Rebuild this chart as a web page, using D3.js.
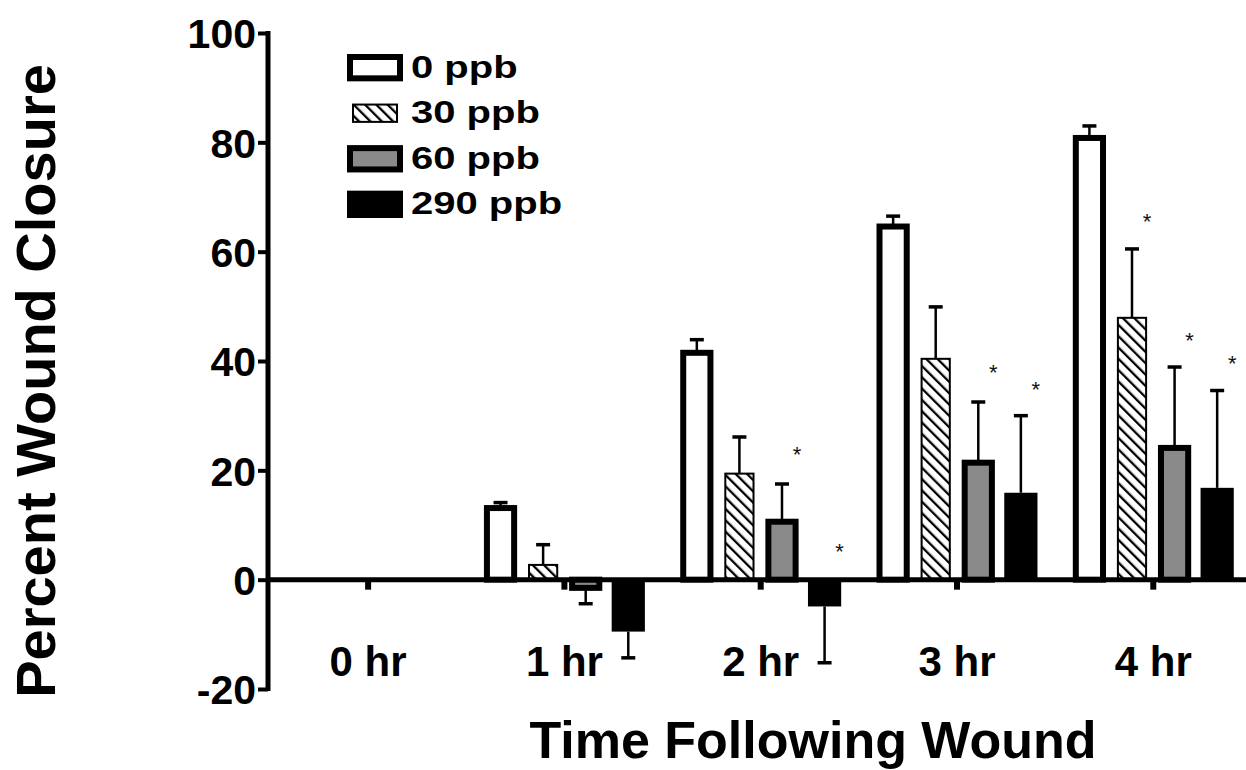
<!DOCTYPE html>
<html>
<head>
<meta charset="utf-8">
<script src="https://cdn.jsdelivr.net/npm/d3@7"></script>
<style>
  body { margin: 0; background: #fff; }
  svg { display: block; font-family: Arial, 'Liberation Sans', Helvetica, sans-serif; }
</style>
</head>
<body>
<svg id="chart" width="1246" height="770"></svg>
<script>
const timePoints = ['0 hr', '1 hr', '2 hr', '3 hr', '4 hr']
const doses = ['0 ppb', '30 ppb', '60 ppb', '290 ppb']

// mean percent wound closure per dose (null = no bar)
const mean0 = [null, 13.1, 41.5, 64.6, 80.8]
const mean30 = [null, 2.7, 19.4, 40.4, 47.9]
const mean60 = [null, -1.5, 10.6, 21.4, 24.1]
const mean290 = [null, -9.5, -4.9, 15.9, 16.8]

// one-sided error bars (SEM)
const err0 = [null, 1.0, 2.4, 1.9, 2.2]
const err30 = [null, 3.7, 6.7, 9.5, 12.6]
const err60 = [null, 2.9, 6.9, 11.1, 14.8]
const err290 = [null, 4.8, 10.3, 14.1, 17.8]

// height of the significance asterisk, in axis units
const star0 = [null, null, null, null, null]
const star30 = [null, null, null, null, 66.4]
const star60 = [null, null, 23.8, 38.8, 44.6]
const star290 = [null, null, 5.9, 35.6, 40.4]

const yTicks = [-20, 0, 20, 40, 60, 80, 100]

const means = [mean0, mean30, mean60, mean290]
const errs = [err0, err30, err60, err290]
const stars = [star0, star30, star60, star290]

const barStyle = [
  { fill: '#fff', stroke: 6, inset: 0 },
  { fill: 'url(#hatch)', stroke: 2, inset: 1.5 },
  { fill: '#8a8a8a', stroke: 6, inset: 0 },
  { fill: '#000', stroke: 0, inset: 0 },
]

const svg = d3.select('#chart')
svg.append('rect').attr('width', 1246).attr('height', 770).attr('fill', '#fff')

const defs = svg.append('defs')
const hatch = defs
  .append('pattern')
  .attr('id', 'hatch')
  .attr('patternUnits', 'userSpaceOnUse')
  .attr('width', 8)
  .attr('height', 8)
  .attr('patternTransform', 'rotate(-45)')
hatch.append('rect').attr('width', 8).attr('height', 8).attr('fill', '#fff')
hatch.append('line').attr('x1', 1).attr('y1', 0).attr('x2', 1).attr('y2', 8).attr('stroke', '#000').attr('stroke-width', 2.6)

const y = d3.scaleLinear().domain([-20, 100]).range([689, 33])
const x = d3.scaleBand().domain(timePoints).range([268, 1253.4]).paddingInner(0.18).paddingOuter(0.1)
const xs = d3.scaleBand().domain(doses).range([0, x.bandwidth()]).paddingInner(0.22)

const bars = []
doses.forEach(function (dose, j) {
  timePoints.forEach(function (t, i) {
    if (means[j][i] === null) return
    bars.push({ t: t, dose: dose, j: j, v: means[j][i], e: errs[j][i], star: stars[j][i] })
  })
})

const plot = svg.append('g')

// bars
plot
  .selectAll('rect.bar')
  .data(bars)
  .join('rect')
  .attr('class', 'bar')
  .attr('x', (d) => x(d.t) + xs(d.dose) + barStyle[d.j].stroke / 2 + barStyle[d.j].inset)
  .attr('width', (d) => xs.bandwidth() - barStyle[d.j].stroke - 2 * barStyle[d.j].inset)
  .attr('y', (d) => y(Math.max(d.v, 0)))
  .attr('height', (d) => Math.abs(y(d.v) - y(0)))
  .attr('fill', (d) => barStyle[d.j].fill)
  .attr('stroke', '#000')
  .attr('stroke-width', (d) => barStyle[d.j].stroke)

// error bars, drawn away from zero only
const errEnd = (d) => (d.v >= 0 ? d.v + d.e : d.v - d.e)
const barMid = (d) => x(d.t) + xs(d.dose) + xs.bandwidth() / 2

plot
  .selectAll('line.err')
  .data(bars)
  .join('line')
  .attr('class', 'err')
  .attr('x1', barMid)
  .attr('x2', barMid)
  .attr('y1', (d) => y(d.v))
  .attr('y2', (d) => y(errEnd(d)))
  .attr('stroke', '#000')
  .attr('stroke-width', 2.5)

plot
  .selectAll('line.cap')
  .data(bars)
  .join('line')
  .attr('class', 'cap')
  .attr('x1', (d) => barMid(d) - 7)
  .attr('x2', (d) => barMid(d) + 7)
  .attr('y1', (d) => y(errEnd(d)))
  .attr('y2', (d) => y(errEnd(d)))
  .attr('stroke', '#000')
  .attr('stroke-width', 3.5)

plot
  .selectAll('text.star')
  .data(bars.filter((d) => d.star !== null))
  .join('text')
  .attr('class', 'star')
  .attr('x', (d) => barMid(d) + 15)
  .attr('y', (d) => y(d.star) + 12)
  .attr('text-anchor', 'middle')
  .attr('font-size', 22)
  .attr('fill', '#111')
  .text('*')

// y axis
const yAxis = svg
  .append('g')
  .attr('transform', 'translate(268,0)')
  .call(d3.axisLeft(y).tickValues(yTicks).tickSize(10).tickPadding(2).tickFormat((d) => String(d)))
yAxis.select('.domain').remove()
yAxis.selectAll('.tick line').attr('stroke', '#000').attr('stroke-width', 4)
yAxis
  .selectAll('.tick text')
  .attr('font-size', 41)
  .attr('font-weight', 'bold')
  .attr('fill', '#000')
  .attr('dy', '0.36em')
yAxis
  .append('line')
  .attr('y1', y(100) - 2)
  .attr('y2', y(-20) + 2)
  .attr('stroke', '#000')
  .attr('stroke-width', 5)

// x axis along zero
const xAxis = svg
  .append('g')
  .attr('transform', 'translate(0,' + y(0) + ')')
  .call(d3.axisBottom(x).tickSize(10).tickPadding(57))
xAxis.select('.domain').remove()
xAxis.selectAll('.tick line').attr('stroke', '#000').attr('stroke-width', 6)
xAxis
  .selectAll('.tick text')
  .attr('font-size', 42)
  .attr('font-weight', 'bold')
  .attr('fill', '#000')
xAxis
  .append('line')
  .attr('x1', 266)
  .attr('x2', 1246)
  .attr('stroke', '#000')
  .attr('stroke-width', 5)

// axis titles
svg
  .append('text')
  .attr('transform', 'translate(55,381) rotate(-90)')
  .attr('text-anchor', 'middle')
  .attr('font-size', 56)
  .attr('font-weight', 'bold')
  .text('Percent Wound Closure')

svg
  .append('text')
  .attr('x', 813)
  .attr('y', 758)
  .attr('text-anchor', 'middle')
  .attr('font-size', 52)
  .attr('font-weight', 'bold')
  .text('Time Following Wound')

// legend
const legendRow = d3.scaleBand().domain(doses).range([54, 218]).paddingInner(0.4)
const legend = svg
  .append('g')
  .selectAll('g')
  .data(doses)
  .join('g')
  .attr('transform', (d) => 'translate(347,' + legendRow(d) + ')')

legend
  .append('rect')
  .attr('x', (d, j) => barStyle[j].stroke / 2 + (j === 1 ? 5 : 0))
  .attr('y', (d, j) => barStyle[j].stroke / 2 + (j === 1 ? 4 : 0))
  .attr('width', (d, j) => 56 - barStyle[j].stroke - (j === 1 ? 10 : 0))
  .attr('height', (d, j) => legendRow.bandwidth() - barStyle[j].stroke - (j === 1 ? 8 : 0))
  .attr('fill', (d, j) => barStyle[j].fill)
  .attr('stroke', '#000')
  .attr('stroke-width', (d, j) => barStyle[j].stroke)

legend
  .append('text')
  .attr('transform', 'translate(64,' + (legendRow.bandwidth() / 2 + 10) + ') scale(1.25,1)')
  .attr('font-size', 32)
  .attr('font-weight', 'bold')
  .text((d) => d)
</script>
</body>
</html>
